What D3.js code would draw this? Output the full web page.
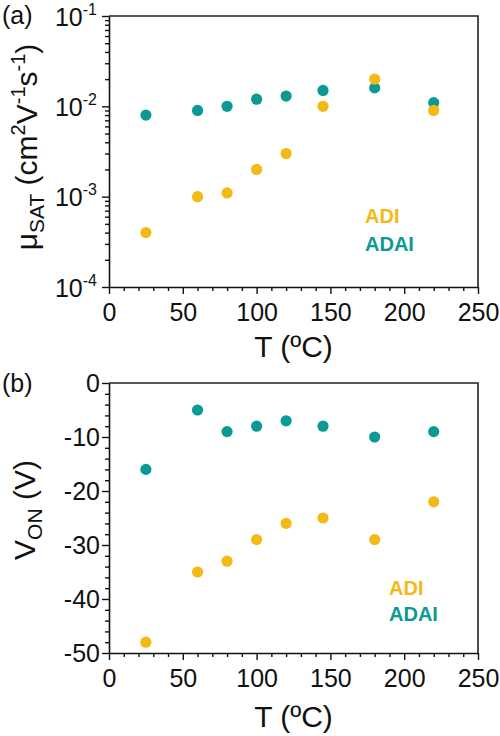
<!DOCTYPE html>
<html>
<head>
<meta charset="utf-8">
<script src="https://cdn.jsdelivr.net/npm/d3@7"></script>
<style>
  html, body { margin: 0; padding: 0; background: #fff; }
  svg { display: block; }
  text { font-family: "Liberation Sans", Arial, Helvetica, sans-serif; fill: #111; }
</style>
</head>
<body>
<svg id="chart" width="500" height="736"></svg>
<script>
// ---- data ----
const temps   = [25, 60, 80, 100, 120, 145, 180, 220];
const muADI   = [0.0004, 0.001, 0.0011, 0.002, 0.003, 0.01, 0.02, 0.009];
const muADAI  = [0.008, 0.009, 0.01, 0.012, 0.013, 0.015, 0.016, 0.011];
const vonADI  = [-48, -35, -33, -29, -26, -25, -29, -22];
const vonADAI = [-16, -5, -9, -8, -7, -8, -10, -9];
const xTicks  = [0, 50, 100, 150, 200, 250];
const muTickExp = [-1, -2, -3, -4];
const vonTicks  = [0, -10, -20, -30, -40, -50];
const seriesNames = ["ADI", "ADAI"];

const colADI = "#f5b915", colADAI = "#0b9a93";
const svg = d3.select("#chart");
const L = 109, R = 478;
const x = d3.scaleLinear().domain([0, 250]).range([L, R]);
const xMinor = d3.range(0, 251, 10).filter(v => v % 50 !== 0);

function xAxis(g, bottom) {
  g.append("g").attr("transform", `translate(0,${bottom})`)
    .call(d3.axisBottom(x).tickValues(xMinor).tickSize(4).tickFormat(""))
    .call(a => a.select(".domain").remove());
  const ax = g.append("g").attr("transform", `translate(0,${bottom})`)
    .call(d3.axisBottom(x).tickValues(xTicks).tickSize(7).tickSizeOuter(0).tickPadding(9));
  ax.selectAll("text").attr("font-size", 25).style("fill", "#111");
  g.selectAll(".tick line").attr("stroke", "#111").attr("stroke-width", 1.4);
  g.selectAll(".domain").attr("stroke", "#111").attr("stroke-width", 1.6);
  ax.attr("font-family", null);
}

function frame(g, top, bottom) {
  g.append("path").attr("d", `M${L},${top}H${R}V${bottom}`)
    .attr("fill", "none").attr("stroke", "#222").attr("stroke-width", 1.6);
}

// ---------- Panel (a) ----------
{
  const top = 16, bottom = 287;
  const y = d3.scaleLog().domain([1e-4, 1e-1]).range([bottom, top]);
  const g = svg.append("g");
  frame(g, top, bottom);
  const minor = [];
  [-4, -3, -2].forEach(e => { for (let k = 2; k <= 9; k++) minor.push(k * Math.pow(10, e)); });
  g.append("g").attr("transform", `translate(${L},0)`)
    .call(d3.axisLeft(y).tickValues(minor).tickSize(4).tickFormat(""))
    .call(a => a.select(".domain").remove());
  const ay = g.append("g").attr("transform", `translate(${L},0)`)
    .call(d3.axisLeft(y).tickValues(muTickExp.map(e => Math.pow(10, e))).tickSize(7).tickSizeOuter(0).tickFormat(""));
  ay.selectAll(".tick").each(function(d) {
    const t = d3.select(this).append("text").attr("x", -12).attr("dy", "0.36em")
      .attr("text-anchor", "end").attr("font-size", 25).style("fill", "#111");
    t.append("tspan").text("10");
    t.append("tspan").attr("dy", -11).attr("font-size", 16).text(String(Math.round(Math.log10(d))));
  });
  xAxis(g, bottom);
  g.selectAll(".tick line").attr("stroke", "#111").attr("stroke-width", 1.4);
  g.selectAll(".domain").attr("stroke", "#111").attr("stroke-width", 1.6);

  g.append("g").selectAll("circle").data(temps).join("circle")
    .attr("cx", (d) => x(d)).attr("cy", (d, i) => y(muADAI[i])).attr("r", 5.6).attr("fill", colADAI);
  g.append("g").selectAll("circle").data(temps).join("circle")
    .attr("cx", (d) => x(d)).attr("cy", (d, i) => y(muADI[i])).attr("r", 5.6).attr("fill", colADI);

  g.append("text").attr("x", 365).attr("y", 223).attr("font-size", 20).attr("font-weight", "bold")
    .style("fill", colADI).text(seriesNames[0]);
  g.append("text").attr("x", 365).attr("y", 251).attr("font-size", 20).attr("font-weight", "bold")
    .style("fill", colADAI).text(seriesNames[1]);

  g.append("text").attr("x", (L + R) / 2).attr("y", 357).attr("text-anchor", "middle")
    .attr("font-size", 30).text("T (ºC)");

  const yt = g.append("text").attr("transform", `translate(37,147) rotate(-90)`)
    .attr("text-anchor", "middle").attr("font-size", 30);
  yt.append("tspan").text("μ");
  yt.append("tspan").attr("dy", 7).attr("font-size", 21).text("SAT");
  yt.append("tspan").attr("dy", -7).text(" (cm");
  yt.append("tspan").attr("dy", -12).attr("font-size", 20).text("2");
  yt.append("tspan").attr("dy", 12).text("V");
  yt.append("tspan").attr("dy", -12).attr("font-size", 20).text("-1");
  yt.append("tspan").attr("dy", 12).text("s");
  yt.append("tspan").attr("dy", -12).attr("font-size", 20).text("-1");
  yt.append("tspan").attr("dy", 12).text(")");

  g.append("text").attr("x", 2).attr("y", 24).attr("font-size", 25).text("(a)");
}

// ---------- Panel (b) ----------
{
  const top = 383, bottom = 653;
  const y = d3.scaleLinear().domain([-50, 0]).range([bottom, top]);
  const g = svg.append("g");
  frame(g, top, bottom);
  const minor = d3.range(-50, 1, 2).filter(v => v % 10 !== 0);
  g.append("g").attr("transform", `translate(${L},0)`)
    .call(d3.axisLeft(y).tickValues(minor).tickSize(4).tickFormat(""))
    .call(a => a.select(".domain").remove());
  const ay = g.append("g").attr("transform", `translate(${L},0)`)
    .call(d3.axisLeft(y).tickValues(vonTicks).tickSize(7).tickSizeOuter(0).tickPadding(2)
      .tickFormat(d => d === 0 ? "0" : "-" + Math.abs(d)));
  ay.selectAll("text").attr("font-size", 25).style("fill", "#111");
  xAxis(g, bottom);
  g.selectAll(".tick line").attr("stroke", "#111").attr("stroke-width", 1.4);
  g.selectAll(".domain").attr("stroke", "#111").attr("stroke-width", 1.6);

  g.append("g").selectAll("circle").data(temps).join("circle")
    .attr("cx", (d) => x(d)).attr("cy", (d, i) => y(vonADAI[i])).attr("r", 5.6).attr("fill", colADAI);
  g.append("g").selectAll("circle").data(temps).join("circle")
    .attr("cx", (d) => x(d)).attr("cy", (d, i) => y(vonADI[i])).attr("r", 5.6).attr("fill", colADI);

  g.append("text").attr("x", 389).attr("y", 595).attr("font-size", 20).attr("font-weight", "bold")
    .style("fill", colADI).text(seriesNames[0]);
  g.append("text").attr("x", 389).attr("y", 621).attr("font-size", 20).attr("font-weight", "bold")
    .style("fill", colADAI).text(seriesNames[1]);

  g.append("text").attr("x", (L + R) / 2).attr("y", 727).attr("text-anchor", "middle")
    .attr("font-size", 30).text("T (ºC)");

  const yt = g.append("text").attr("transform", `translate(35,510) rotate(-90)`)
    .attr("text-anchor", "middle").attr("font-size", 30);
  yt.append("tspan").text("V");
  yt.append("tspan").attr("dy", 7).attr("font-size", 21).text("ON");
  yt.append("tspan").attr("dy", -7).text(" (V)");

  g.append("text").attr("x", 2).attr("y", 392).attr("font-size", 25).text("(b)");
}
</script>
</body>
</html>
